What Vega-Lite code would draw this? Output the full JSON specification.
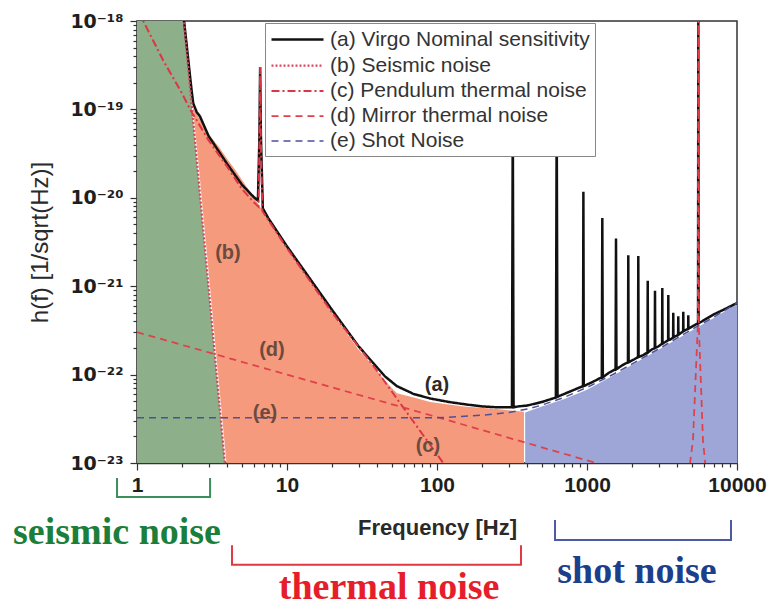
{
  "$schema": "https://vega.github.io/schema/vega-lite/v6.json",
  "width": 600,
  "height": 442,
  "autosize": {"type": "none"},
  "padding": {"left": 137, "top": 21, "right": 31, "bottom": 143},
  "background": "white",
  "view": {"stroke": "#333333", "strokeWidth": 1.5},
  "config": {"font": "Liberation Sans"},
  "datasets": {
    "fills": [
      {"region": "seismic", "f": 1, "h": 1e-18, "h2": 1e-23},
      {"region": "seismic", "f": 2.06, "h": 1e-18, "h2": 1e-23},
      {"region": "seismic", "f": 2.33, "h": 1e-19, "h2": 1e-23},
      {"region": "seismic", "f": 3.0, "h": 9.77e-22, "h2": 1e-23},
      {"region": "seismic", "f": 3.86, "h": 1e-23, "h2": 1e-23},
      {"region": "thermal", "f": 2.36, "h": 1.05e-19, "h2": 1.05e-19},
      {"region": "thermal", "f": 2.6, "h": 7.94e-20, "h2": 2.0e-20},
      {"region": "thermal", "f": 3.0, "h": 5.25e-20, "h2": 1.48e-21},
      {"region": "thermal", "f": 3.5, "h": 3.8e-20, "h2": 8.71e-23},
      {"region": "thermal", "f": 3.95, "h": 2.82e-20, "h2": 1e-23},
      {"region": "thermal", "f": 4.5, "h": 2.09e-20, "h2": 1e-23},
      {"region": "thermal", "f": 5.5, "h": 1.26e-20, "h2": 1e-23},
      {"region": "thermal", "f": 6.5, "h": 8.32e-21, "h2": 1e-23},
      {"region": "thermal", "f": 7.5, "h": 5.62e-21, "h2": 1e-23},
      {"region": "thermal", "f": 10, "h": 2.69e-21, "h2": 1e-23},
      {"region": "thermal", "f": 15, "h": 1.05e-21, "h2": 1e-23},
      {"region": "thermal", "f": 20, "h": 5.01e-22, "h2": 1e-23},
      {"region": "thermal", "f": 30, "h": 1.91e-22, "h2": 1e-23},
      {"region": "thermal", "f": 37.6, "h": 1.26e-22, "h2": 1e-23},
      {"region": "thermal", "f": 45, "h": 8.51e-23, "h2": 1e-23},
      {"region": "thermal", "f": 54, "h": 6.17e-23, "h2": 1e-23},
      {"region": "thermal", "f": 70, "h": 5.5e-23, "h2": 1e-23},
      {"region": "thermal", "f": 90, "h": 4.9e-23, "h2": 1e-23},
      {"region": "thermal", "f": 150, "h": 4.37e-23, "h2": 1e-23},
      {"region": "thermal", "f": 250, "h": 4.07e-23, "h2": 1e-23},
      {"region": "thermal", "f": 380, "h": 3.8e-23, "h2": 1e-23},
      {"region": "shot", "f": 387, "h": 3.72e-23, "h2": 1e-23},
      {"region": "shot", "f": 500, "h": 4.37e-23, "h2": 1e-23},
      {"region": "shot", "f": 700, "h": 5.25e-23, "h2": 1e-23},
      {"region": "shot", "f": 1000, "h": 6.76e-23, "h2": 1e-23},
      {"region": "shot", "f": 1500, "h": 9.77e-23, "h2": 1e-23},
      {"region": "shot", "f": 2000, "h": 1.29e-22, "h2": 1e-23},
      {"region": "shot", "f": 3000, "h": 1.91e-22, "h2": 1e-23},
      {"region": "shot", "f": 5000, "h": 3.16e-22, "h2": 1e-23},
      {"region": "shot", "f": 7000, "h": 4.37e-22, "h2": 1e-23},
      {"region": "shot", "f": 10000, "h": 6.31e-22, "h2": 1e-23}
    ],
    "curves": [
      {"series": "(a) Virgo Nominal sensitivity", "f": 2.0, "h": 1.62e-18},
      {"series": "(a) Virgo Nominal sensitivity", "f": 2.06, "h": 1.0e-18},
      {"series": "(a) Virgo Nominal sensitivity", "f": 2.2, "h": 3.55e-19},
      {"series": "(a) Virgo Nominal sensitivity", "f": 2.31, "h": 1.66e-19},
      {"series": "(a) Virgo Nominal sensitivity", "f": 2.37, "h": 1.17e-19},
      {"series": "(a) Virgo Nominal sensitivity", "f": 2.5, "h": 9.33e-20},
      {"series": "(a) Virgo Nominal sensitivity", "f": 2.63, "h": 8.32e-20},
      {"series": "(a) Virgo Nominal sensitivity", "f": 3.0, "h": 5.01e-20},
      {"series": "(a) Virgo Nominal sensitivity", "f": 4.0, "h": 2.4e-20},
      {"series": "(a) Virgo Nominal sensitivity", "f": 5.0, "h": 1.41e-20},
      {"series": "(a) Virgo Nominal sensitivity", "f": 6.0, "h": 1.02e-20},
      {"series": "(a) Virgo Nominal sensitivity", "f": 6.4, "h": 9.33e-21},
      {"series": "(a) Virgo Nominal sensitivity", "f": 6.55, "h": 5.01e-20},
      {"series": "(a) Virgo Nominal sensitivity", "f": 6.62, "h": 3.02e-19},
      {"series": "(a) Virgo Nominal sensitivity", "f": 6.7, "h": 5.01e-20},
      {"series": "(a) Virgo Nominal sensitivity", "f": 6.9, "h": 7.59e-21},
      {"series": "(a) Virgo Nominal sensitivity", "f": 7.5, "h": 5.89e-21},
      {"series": "(a) Virgo Nominal sensitivity", "f": 10, "h": 2.82e-21},
      {"series": "(a) Virgo Nominal sensitivity", "f": 15, "h": 1.07e-21},
      {"series": "(a) Virgo Nominal sensitivity", "f": 20, "h": 5.37e-22},
      {"series": "(a) Virgo Nominal sensitivity", "f": 30, "h": 2.09e-22},
      {"series": "(a) Virgo Nominal sensitivity", "f": 37.6, "h": 1.35e-22},
      {"series": "(a) Virgo Nominal sensitivity", "f": 45, "h": 9.55e-23},
      {"series": "(a) Virgo Nominal sensitivity", "f": 54, "h": 7.41e-23},
      {"series": "(a) Virgo Nominal sensitivity", "f": 70, "h": 6.03e-23},
      {"series": "(a) Virgo Nominal sensitivity", "f": 90, "h": 5.37e-23},
      {"series": "(a) Virgo Nominal sensitivity", "f": 120, "h": 4.9e-23},
      {"series": "(a) Virgo Nominal sensitivity", "f": 160, "h": 4.57e-23},
      {"series": "(a) Virgo Nominal sensitivity", "f": 200, "h": 4.37e-23},
      {"series": "(a) Virgo Nominal sensitivity", "f": 250, "h": 4.27e-23},
      {"series": "(a) Virgo Nominal sensitivity", "f": 316, "h": 4.27e-23},
      {"series": "(a) Virgo Nominal sensitivity", "f": 320, "h": 1e-19},
      {"series": "(a) Virgo Nominal sensitivity", "f": 324, "h": 4.27e-23},
      {"series": "(a) Virgo Nominal sensitivity", "f": 350, "h": 4.37e-23},
      {"series": "(a) Virgo Nominal sensitivity", "f": 400, "h": 4.47e-23},
      {"series": "(a) Virgo Nominal sensitivity", "f": 500, "h": 4.9e-23},
      {"series": "(a) Virgo Nominal sensitivity", "f": 620, "h": 5.5e-23},
      {"series": "(a) Virgo Nominal sensitivity", "f": 628, "h": 1e-19},
      {"series": "(a) Virgo Nominal sensitivity", "f": 636, "h": 5.62e-23},
      {"series": "(a) Virgo Nominal sensitivity", "f": 800, "h": 6.61e-23},
      {"series": "(a) Virgo Nominal sensitivity", "f": 940, "h": 7.41e-23},
      {"series": "(a) Virgo Nominal sensitivity", "f": 946, "h": 1.17e-20},
      {"series": "(a) Virgo Nominal sensitivity", "f": 952, "h": 7.41e-23},
      {"series": "(a) Virgo Nominal sensitivity", "f": 1100, "h": 8.32e-23},
      {"series": "(a) Virgo Nominal sensitivity", "f": 1255, "h": 9.33e-23},
      {"series": "(a) Virgo Nominal sensitivity", "f": 1265, "h": 5.89e-21},
      {"series": "(a) Virgo Nominal sensitivity", "f": 1275, "h": 9.33e-23},
      {"series": "(a) Virgo Nominal sensitivity", "f": 1400, "h": 1.05e-22},
      {"series": "(a) Virgo Nominal sensitivity", "f": 1550, "h": 1.15e-22},
      {"series": "(a) Virgo Nominal sensitivity", "f": 1561, "h": 3.47e-21},
      {"series": "(a) Virgo Nominal sensitivity", "f": 1572, "h": 1.15e-22},
      {"series": "(a) Virgo Nominal sensitivity", "f": 1700, "h": 1.26e-22},
      {"series": "(a) Virgo Nominal sensitivity", "f": 1875, "h": 1.38e-22},
      {"series": "(a) Virgo Nominal sensitivity", "f": 1885, "h": 2.24e-21},
      {"series": "(a) Virgo Nominal sensitivity", "f": 1895, "h": 1.38e-22},
      {"series": "(a) Virgo Nominal sensitivity", "f": 2050, "h": 1.48e-22},
      {"series": "(a) Virgo Nominal sensitivity", "f": 2188, "h": 1.58e-22},
      {"series": "(a) Virgo Nominal sensitivity", "f": 2198, "h": 2.19e-21},
      {"series": "(a) Virgo Nominal sensitivity", "f": 2208, "h": 1.58e-22},
      {"series": "(a) Virgo Nominal sensitivity", "f": 2370, "h": 1.66e-22},
      {"series": "(a) Virgo Nominal sensitivity", "f": 2530, "h": 1.78e-22},
      {"series": "(a) Virgo Nominal sensitivity", "f": 2540, "h": 1.15e-21},
      {"series": "(a) Virgo Nominal sensitivity", "f": 2550, "h": 1.78e-22},
      {"series": "(a) Virgo Nominal sensitivity", "f": 2690, "h": 1.91e-22},
      {"series": "(a) Virgo Nominal sensitivity", "f": 2830, "h": 2.0e-22},
      {"series": "(a) Virgo Nominal sensitivity", "f": 2840, "h": 8.91e-22},
      {"series": "(a) Virgo Nominal sensitivity", "f": 2850, "h": 2.0e-22},
      {"series": "(a) Virgo Nominal sensitivity", "f": 3000, "h": 2.09e-22},
      {"series": "(a) Virgo Nominal sensitivity", "f": 3167, "h": 2.24e-22},
      {"series": "(a) Virgo Nominal sensitivity", "f": 3177, "h": 9.55e-22},
      {"series": "(a) Virgo Nominal sensitivity", "f": 3187, "h": 2.24e-22},
      {"series": "(a) Virgo Nominal sensitivity", "f": 3330, "h": 2.34e-22},
      {"series": "(a) Virgo Nominal sensitivity", "f": 3474, "h": 2.45e-22},
      {"series": "(a) Virgo Nominal sensitivity", "f": 3484, "h": 7.94e-22},
      {"series": "(a) Virgo Nominal sensitivity", "f": 3494, "h": 2.45e-22},
      {"series": "(a) Virgo Nominal sensitivity", "f": 3620, "h": 2.51e-22},
      {"series": "(a) Virgo Nominal sensitivity", "f": 3750, "h": 2.63e-22},
      {"series": "(a) Virgo Nominal sensitivity", "f": 3760, "h": 5.01e-22},
      {"series": "(a) Virgo Nominal sensitivity", "f": 3770, "h": 2.63e-22},
      {"series": "(a) Virgo Nominal sensitivity", "f": 3900, "h": 2.72e-22},
      {"series": "(a) Virgo Nominal sensitivity", "f": 4050, "h": 2.82e-22},
      {"series": "(a) Virgo Nominal sensitivity", "f": 4060, "h": 4.57e-22},
      {"series": "(a) Virgo Nominal sensitivity", "f": 4070, "h": 2.82e-22},
      {"series": "(a) Virgo Nominal sensitivity", "f": 4220, "h": 2.95e-22},
      {"series": "(a) Virgo Nominal sensitivity", "f": 4375, "h": 3.09e-22},
      {"series": "(a) Virgo Nominal sensitivity", "f": 4385, "h": 5.13e-22},
      {"series": "(a) Virgo Nominal sensitivity", "f": 4395, "h": 3.09e-22},
      {"series": "(a) Virgo Nominal sensitivity", "f": 4560, "h": 3.2e-22},
      {"series": "(a) Virgo Nominal sensitivity", "f": 4725, "h": 3.31e-22},
      {"series": "(a) Virgo Nominal sensitivity", "f": 4735, "h": 4.68e-22},
      {"series": "(a) Virgo Nominal sensitivity", "f": 4745, "h": 3.31e-22},
      {"series": "(a) Virgo Nominal sensitivity", "f": 5100, "h": 3.55e-22},
      {"series": "(a) Virgo Nominal sensitivity", "f": 5500, "h": 3.8e-22},
      {"series": "(a) Virgo Nominal sensitivity", "f": 5522, "h": 1.26e-18},
      {"series": "(a) Virgo Nominal sensitivity", "f": 5544, "h": 3.8e-22},
      {"series": "(a) Virgo Nominal sensitivity", "f": 7000, "h": 4.79e-22},
      {"series": "(a) Virgo Nominal sensitivity", "f": 8500, "h": 5.62e-22},
      {"series": "(a) Virgo Nominal sensitivity", "f": 10000, "h": 6.46e-22},
      {"series": "(b) Seismic noise", "f": 2.0, "h": 1.62e-18},
      {"series": "(b) Seismic noise", "f": 2.33, "h": 1e-19},
      {"series": "(b) Seismic noise", "f": 3.0, "h": 9.77e-22},
      {"series": "(b) Seismic noise", "f": 3.95, "h": 6.31e-24},
      {"series": "(c) Pendulum thermal noise", "f": 1.0, "h": 2.0e-18},
      {"series": "(c) Pendulum thermal noise", "f": 1.1, "h": 1e-18},
      {"series": "(c) Pendulum thermal noise", "f": 1.5, "h": 3.55e-19},
      {"series": "(c) Pendulum thermal noise", "f": 2.0, "h": 1.51e-19},
      {"series": "(c) Pendulum thermal noise", "f": 2.26, "h": 1e-19},
      {"series": "(c) Pendulum thermal noise", "f": 3.0, "h": 4.47e-20},
      {"series": "(c) Pendulum thermal noise", "f": 4.0, "h": 2.24e-20},
      {"series": "(c) Pendulum thermal noise", "f": 5.0, "h": 1.26e-20},
      {"series": "(c) Pendulum thermal noise", "f": 6.0, "h": 8.91e-21},
      {"series": "(c) Pendulum thermal noise", "f": 6.45, "h": 7.94e-21},
      {"series": "(c) Pendulum thermal noise", "f": 6.55, "h": 3.98e-20},
      {"series": "(c) Pendulum thermal noise", "f": 6.62, "h": 3.02e-19},
      {"series": "(c) Pendulum thermal noise", "f": 6.7, "h": 3.98e-20},
      {"series": "(c) Pendulum thermal noise", "f": 6.85, "h": 7.08e-21},
      {"series": "(c) Pendulum thermal noise", "f": 7.5, "h": 5.62e-21},
      {"series": "(c) Pendulum thermal noise", "f": 10, "h": 2.69e-21},
      {"series": "(c) Pendulum thermal noise", "f": 20, "h": 5.01e-22},
      {"series": "(c) Pendulum thermal noise", "f": 37.6, "h": 1.26e-22},
      {"series": "(c) Pendulum thermal noise", "f": 60, "h": 4.17e-23},
      {"series": "(c) Pendulum thermal noise", "f": 110, "h": 1e-23},
      {"series": "(c) Pendulum thermal noise", "f": 130, "h": 6.31e-24},
      {"series": "(d) Mirror thermal noise", "f": 1, "h": 3.02e-22},
      {"series": "(d) Mirror thermal noise", "f": 10, "h": 1e-22},
      {"series": "(d) Mirror thermal noise", "f": 100, "h": 3.31e-23},
      {"series": "(d) Mirror thermal noise", "f": 1000, "h": 1.07e-23},
      {"series": "(d) Mirror thermal noise", "f": 2000, "h": 7.59e-24},
      {"series": "(d) Mirror thermal noise", "f": 4700, "h": 6.31e-24},
      {"series": "(d) Mirror thermal noise", "f": 5090, "h": 1.82e-23},
      {"series": "(d) Mirror thermal noise", "f": 5480, "h": 3.55e-22},
      {"series": "(d) Mirror thermal noise", "f": 5522, "h": 1.26e-18},
      {"series": "(d) Mirror thermal noise", "f": 5565, "h": 3.55e-22},
      {"series": "(d) Mirror thermal noise", "f": 5930, "h": 1.82e-23},
      {"series": "(d) Mirror thermal noise", "f": 6300, "h": 6.31e-24},
      {"series": "(e) Shot Noise", "f": 1, "h": 3.24e-23},
      {"series": "(e) Shot Noise", "f": 100, "h": 3.24e-23},
      {"series": "(e) Shot Noise", "f": 200, "h": 3.47e-23},
      {"series": "(e) Shot Noise", "f": 300, "h": 3.72e-23},
      {"series": "(e) Shot Noise", "f": 400, "h": 4.07e-23},
      {"series": "(e) Shot Noise", "f": 500, "h": 4.52e-23},
      {"series": "(e) Shot Noise", "f": 700, "h": 5.5e-23},
      {"series": "(e) Shot Noise", "f": 1000, "h": 7.16e-23},
      {"series": "(e) Shot Noise", "f": 1500, "h": 1.01e-22},
      {"series": "(e) Shot Noise", "f": 2000, "h": 1.32e-22},
      {"series": "(e) Shot Noise", "f": 3000, "h": 1.95e-22},
      {"series": "(e) Shot Noise", "f": 5000, "h": 3.24e-22},
      {"series": "(e) Shot Noise", "f": 7000, "h": 4.47e-22},
      {"series": "(e) Shot Noise", "f": 10000, "h": 6.46e-22}
    ],
    "labels": [
      {"label": "(a)", "f": 100, "h": 7.59e-23},
      {"label": "(b)", "f": 4.04, "h": 2.4e-21},
      {"label": "(c)", "f": 87, "h": 1.55e-23},
      {"label": "(d)", "f": 7.94, "h": 1.91e-22},
      {"label": "(e)", "f": 7.13, "h": 3.72e-23}
    ],
    "topticks": [
      {"f": 2}, {"f": 3}, {"f": 4}, {"f": 5}, {"f": 6}, {"f": 7}, {"f": 8}, {"f": 9}, {"f": 10},
      {"f": 20}, {"f": 30}, {"f": 40}, {"f": 50}, {"f": 60}, {"f": 70}, {"f": 80}, {"f": 90}, {"f": 100},
      {"f": 200}, {"f": 300}, {"f": 400}, {"f": 500}, {"f": 600}, {"f": 700}, {"f": 800}, {"f": 900}, {"f": 1000},
      {"f": 2000}, {"f": 3000}, {"f": 4000}, {"f": 5000}, {"f": 6000}, {"f": 7000}, {"f": 8000}, {"f": 9000}
    ],
    "brackets": [
      {"group": "seismic", "k": 1, "f": 0.736, "h": 6.76e-24},
      {"group": "seismic", "k": 2, "f": 0.736, "h": 4.12e-24},
      {"group": "seismic", "k": 3, "f": 3.07, "h": 4.12e-24},
      {"group": "seismic", "k": 4, "f": 3.07, "h": 6.76e-24},
      {"group": "thermal", "k": 1, "f": 4.3, "h": 1.17e-24},
      {"group": "thermal", "k": 2, "f": 4.3, "h": 7.08e-25},
      {"group": "thermal", "k": 3, "f": 363, "h": 7.08e-25},
      {"group": "thermal", "k": 4, "f": 363, "h": 1.17e-24},
      {"group": "shot", "k": 1, "f": 612, "h": 2.26e-24},
      {"group": "shot", "k": 2, "f": 612, "h": 1.35e-24},
      {"group": "shot", "k": 3, "f": 9120, "h": 1.35e-24},
      {"group": "shot", "k": 4, "f": 9120, "h": 2.26e-24}
    ],
    "notes": [
      {"group": "seismic", "text": "seismic noise", "f": 0.736, "h": 1.62e-24},
      {"group": "thermal", "text": "thermal noise", "f": 47.9, "h": 3.89e-25},
      {"group": "shot", "text": "shot noise", "f": 2154, "h": 5.89e-25}
    ]
  },
  "encoding": {
    "x": {
      "field": "f", "type": "quantitative",
      "scale": {"type": "log", "domain": [1, 10000]},
      "axis": {
        "title": "Frequency [Hz]",
        "values": [1,2,3,4,5,6,7,8,9,10,20,30,40,50,60,70,80,90,100,200,300,400,500,600,700,800,900,1000,2000,3000,4000,5000,6000,7000,8000,9000,10000],
        "labelExpr": "indexof([1,10,100,1000,10000], datum.value) >= 0 ? format(datum.value, 'd') : ''",
        "labelOverlap": false,
        "labelFlush": false,
        "labelFontSize": 21,
        "labelFontWeight": "bold",
        "labelColor": "#1e1e1e",
        "labelPadding": 4,
        "tickSize": {"condition": {"test": "indexof([1,10,100,1000,10000], datum.value) >= 0", "value": 7}, "value": 4},
        "tickColor": "#333333",
        "tickWidth": 1.2,
        "domainColor": "#333333",
        "domainWidth": 1.5,
        "grid": false,
        "titleFontSize": 22,
        "titleFontWeight": "bold",
        "titleColor": "#2a2a2a",
        "titleY": 64,
        "titleBaseline": "middle"
      }
    },
    "y": {
      "field": "h", "type": "quantitative",
      "scale": {"type": "log", "domain": [1e-23, 1e-18]},
      "axis": {
        "title": "h(f) [1/sqrt(Hz)]",
        "values": [1e-23,2e-23,3e-23,4e-23,5e-23,6e-23,7e-23,8e-23,9e-23,1e-22,2e-22,3e-22,4e-22,5e-22,6e-22,7e-22,8e-22,9e-22,1e-21,2e-21,3e-21,4e-21,5e-21,6e-21,7e-21,8e-21,9e-21,1e-20,2e-20,3e-20,4e-20,5e-20,6e-20,7e-20,8e-20,9e-20,1e-19,2e-19,3e-19,4e-19,5e-19,6e-19,7e-19,8e-19,9e-19,1e-18],
        "labelExpr": "datum.value == 1e-18 ? '10⁻¹⁸' : datum.value == 1e-19 ? '10⁻¹⁹' : datum.value == 1e-20 ? '10⁻²⁰' : datum.value == 1e-21 ? '10⁻²¹' : datum.value == 1e-22 ? '10⁻²²' : datum.value == 1e-23 ? '10⁻²³' : ''",
        "labelOverlap": false,
        "labelFlush": false,
        "labelFont": "DejaVu Sans",
        "labelFontSize": 19,
        "labelFontWeight": "bold",
        "labelColor": "#1e1e1e",
        "labelPadding": 7,
        "tickSize": {"condition": {"test": "indexof([1e-23,1e-22,1e-21,1e-20,1e-19,1e-18], datum.value) >= 0", "value": 7}, "value": 4},
        "tickColor": "#333333",
        "tickWidth": 1.2,
        "domainColor": "#333333",
        "domainWidth": 1.5,
        "grid": false,
        "titleFontSize": 24,
        "titleFontWeight": "normal",
        "titleColor": "#2a2a2a",
        "titleX": -97,
        "titleY": 221,
        "titleAlign": "center",
        "titleBaseline": "middle",
        "titleAngle": -90
      }
    }
  },
  "layer": [
    {
      "data": {"name": "fills"},
      "transform": [{"filter": "datum.region == 'seismic'"}],
      "mark": {"type": "area", "color": "#8db08a", "opacity": 1},
      "encoding": {"y2": {"field": "h2"}}
    },
    {
      "data": {"name": "fills"},
      "transform": [{"filter": "datum.region == 'thermal'"}],
      "mark": {"type": "area", "color": "#f59a7c", "opacity": 1},
      "encoding": {"y2": {"field": "h2"}}
    },
    {
      "data": {"name": "fills"},
      "transform": [{"filter": "datum.region == 'shot'"}],
      "mark": {"type": "area", "color": "#9da6d6", "opacity": 1},
      "encoding": {"y2": {"field": "h2"}}
    },
    {
      "data": {"name": "topticks"},
      "mark": {"type": "rule", "color": "#333333", "strokeWidth": 1.3},
      "encoding": {
        "y": {"datum": 1e-18},
        "y2": {"datum": 1.17e-18}
      }
    },
    {
      "data": {"name": "curves"},
      "mark": {"type": "line", "clip": true},
      "encoding": {
        "color": {
          "field": "series", "type": "nominal",
          "scale": {
            "domain": ["(a) Virgo Nominal sensitivity", "(b) Seismic noise", "(c) Pendulum thermal noise", "(d) Mirror thermal noise", "(e) Shot Noise"],
            "range": ["#111111", "#d9445a", "#dc3545", "#e0404a", "#4c4f9c"]
          },
          "legend": {
            "title": null,
            "orient": "none",
            "legendX": 128,
            "legendY": 2,
            "symbolType": "M-1,0H4.2",
            "symbolSize": 400,
            "symbolStrokeWidth": 2,
            "labelFontSize": 21,
            "labelFont": "Liberation Sans",
            "labelColor": "#333333",
            "labelLimit": 400,
            "fillColor": "white",
            "strokeColor": "#888888",
            "padding": 5,
            "rowPadding": 4,
            "labelOffset": 37
          }
        },
        "strokeDash": {
          "field": "series", "type": "nominal",
          "scale": {
            "domain": ["(a) Virgo Nominal sensitivity", "(b) Seismic noise", "(c) Pendulum thermal noise", "(d) Mirror thermal noise", "(e) Shot Noise"],
            "range": [[1, 0], [2, 2], [8, 3, 2, 3], [7, 5], [7, 5]]
          },
          "legend": {
            "title": null,
            "orient": "none",
            "legendX": 128,
            "legendY": 2,
            "symbolType": "M-1,0H4.2",
            "symbolSize": 400,
            "symbolStrokeWidth": 2,
            "labelFontSize": 21,
            "labelFont": "Liberation Sans",
            "labelColor": "#333333",
            "labelLimit": 400,
            "fillColor": "white",
            "strokeColor": "#888888",
            "padding": 5,
            "rowPadding": 4,
            "labelOffset": 37
          }
        },
        "strokeWidth": {
          "field": "series", "type": "ordinal",
          "scale": {
            "domain": ["(a) Virgo Nominal sensitivity", "(b) Seismic noise", "(c) Pendulum thermal noise", "(d) Mirror thermal noise", "(e) Shot Noise"],
            "range": [2.5, 1.5, 1.5, 1.5, 1.5]
          },
          "legend": null
        }
      }
    },
    {
      "data": {"name": "labels"},
      "mark": {"type": "text", "fontSize": 20, "fontWeight": "bold", "font": "Liberation Sans"},
      "encoding": {
        "text": {"field": "label"},
        "color": {"condition": {"test": "datum.label == '(a)'", "value": "#2a2a2a"}, "value": "#6b4a3f"}
      }
    },
    {
      "data": {"name": "brackets"},
      "transform": [{"filter": "datum.group == 'seismic'"}],
      "mark": {"type": "line", "color": "#3b8f5a", "strokeWidth": 2},
      "encoding": {"order": {"field": "k"}}
    },
    {
      "data": {"name": "brackets"},
      "transform": [{"filter": "datum.group == 'thermal'"}],
      "mark": {"type": "line", "color": "#e0393f", "strokeWidth": 2},
      "encoding": {"order": {"field": "k"}}
    },
    {
      "data": {"name": "brackets"},
      "transform": [{"filter": "datum.group == 'shot'"}],
      "mark": {"type": "line", "color": "#4b5aa5", "strokeWidth": 2},
      "encoding": {"order": {"field": "k"}}
    },
    {
      "data": {"name": "notes"},
      "transform": [{"filter": "datum.group == 'seismic'"}],
      "mark": {"type": "text", "font": "Liberation Serif", "fontWeight": "bold", "fontSize": 38, "color": "#1b7f3b"},
      "encoding": {"text": {"field": "text"}}
    },
    {
      "data": {"name": "notes"},
      "transform": [{"filter": "datum.group == 'thermal'"}],
      "mark": {"type": "text", "font": "Liberation Serif", "fontWeight": "bold", "fontSize": 38, "color": "#e61e2b"},
      "encoding": {"text": {"field": "text"}}
    },
    {
      "data": {"name": "notes"},
      "transform": [{"filter": "datum.group == 'shot'"}],
      "mark": {"type": "text", "font": "Liberation Serif", "fontWeight": "bold", "fontSize": 38, "color": "#1c3f8c"},
      "encoding": {"text": {"field": "text"}}
    }
  ]
}
